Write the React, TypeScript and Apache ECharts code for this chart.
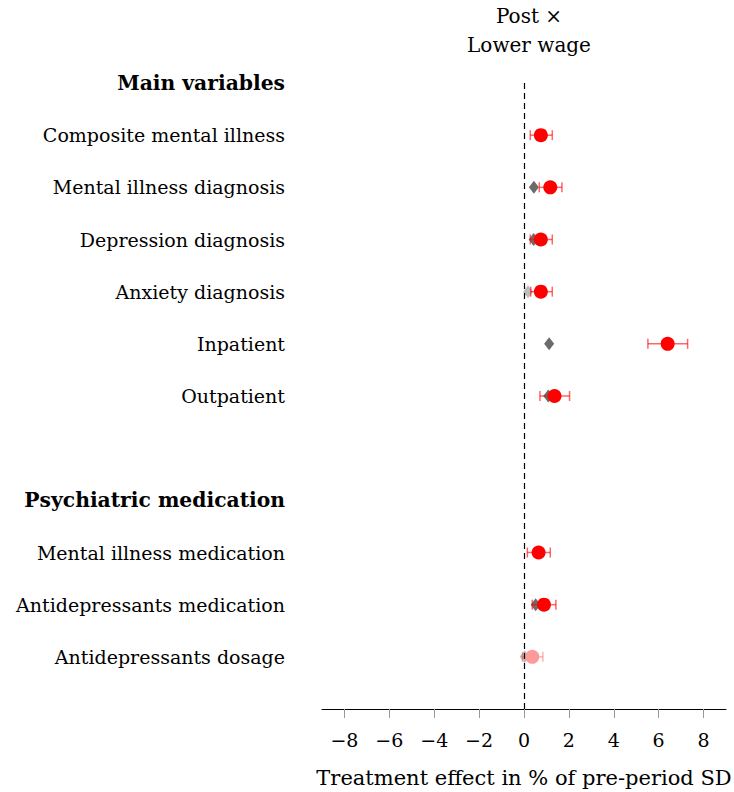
import React, { useEffect, useRef } from "react";
import * as echarts from "echarts";

// Row labels (index = row position from top); headers are flagged
const rowLabels = [
  "Main variables",
  "Composite mental illness",
  "Mental illness diagnosis",
  "Depression diagnosis",
  "Anxiety diagnosis",
  "Inpatient",
  "Outpatient",
  "",
  "Psychiatric medication",
  "Mental illness medication",
  "Antidepressants medication",
  "Antidepressants dosage",
];
const headerRows = [0, 8];

// Red estimates (Post x Lower wage) with confidence intervals
const redRows = [1, 2, 3, 4, 5, 6, 9, 10, 11];
const redEst = [0.75, 1.17, 0.75, 0.75, 6.4, 1.36, 0.65, 0.89, 0.37];
const ciLow = [0.28, 0.68, 0.28, 0.3, 5.52, 0.71, 0.15, 0.37, -0.07];
const ciHigh = [1.26, 1.69, 1.26, 1.26, 7.29, 2.03, 1.17, 1.42, 0.84];
const redSignificant = [true, true, true, true, true, true, true, true, false];

// Gray diamond estimates
const grayRows = [2, 3, 4, 5, 6, 10, 11];
const grayEst = [0.44, 0.43, 0.18, 1.12, 1.08, 0.52, 0.03];
const graySignificant = [true, true, false, true, true, true, false];

// X axis ticks
const xTicks = [-8, -6, -4, -2, 0, 2, 4, 6, 8];

const FONT = "DejaVu Serif";

export default function App() {
  const ref = useRef<HTMLDivElement>(null);
  useEffect(() => {
    if (!ref.current) return;
    const chart = echarts.init(ref.current, null, { renderer: "svg" });

    const grayData = grayRows.map((r, i) => ({
      value: [grayEst[i], r],
      itemStyle: { color: graySignificant[i] ? "#6b6b6b" : "#bdbdbd", opacity: 1 },
    }));
    const redData = redRows.map((r, i) => ({
      value: [redEst[i], r],
      itemStyle: { color: redSignificant[i] ? "#ff0000" : "#ff9a9a", opacity: 1 },
    }));
    const errData = redRows.map((r, i) => [ciLow[i], ciHigh[i], r, redSignificant[i] ? 1 : 0]);

    chart.setOption({
      animation: false,
      title: {
        text: "Post ×\nLower wage",
        left: 524,
        top: -4,
        textAlign: "center",
        textStyle: {
          fontFamily: FONT,
          fontWeight: "normal",
          fontSize: 20,
          lineHeight: 29,
          color: "#000",
        },
      },
      grid: {
        left: 322,
        right: 8,
        top: 83,
        bottom: 83,
        containLabel: false,
        outerBoundsMode: "none",
      },
      xAxis: {
        type: "value",
        min: -9,
        max: 9,
        splitLine: { show: false },
        axisLine: { show: true, onZero: false, lineStyle: { color: "#000", width: 1 } },
        axisTick: {
          show: true,
          customValues: xTicks,
          length: 9,
          lineStyle: { color: "#999", width: 1 },
        },
        axisLabel: {
          customValues: xTicks,
          formatter: (v: number) => (v < 0 ? "−" + Math.abs(v) : String(v)),
          fontFamily: FONT,
          fontSize: 19,
          color: "#000",
          margin: 21,
        },
        name: "Treatment effect in % of pre-period SD",
        nameLocation: "middle",
        nameGap: 58,
        nameTextStyle: { fontFamily: FONT, fontSize: 21, color: "#000" },
      },
      yAxis: {
        type: "value",
        inverse: true,
        min: 0,
        max: 12,
        interval: 1,
        splitLine: { show: false },
        axisLine: { show: false },
        axisTick: { show: false },
        axisLabel: {
          show: true,
          margin: 37,
          showMaxLabel: true,
          showMinLabel: true,
          fontFamily: FONT,
          fontSize: 19,
          color: "#000",
          formatter: (v: number) => {
            const lab = rowLabels[v] ?? "";
            if (!lab) return "";
            return headerRows.includes(v) ? "{b|" + lab + "}" : lab;
          },
          rich: {
            b: { fontFamily: FONT, fontSize: 20.3, fontWeight: "bold", color: "#000" },
          },
        },
      },
      series: [
        {
          type: "scatter",
          name: "ref",
          data: grayData,
          symbol: "diamond",
          symbolSize: [10, 13],
          z: 2,
          markLine: {
            silent: true,
            symbol: "none",
            label: { show: false },
            lineStyle: { color: "#000", type: [6, 4], width: 1.2 },
            data: [{ xAxis: 0 }],
          },
        },
        {
          type: "custom",
          name: "ci",
          z: 3,
          data: errData,
          encode: { x: [0, 1], y: 2 },
          renderItem: (params: any, api: any) => {
            const y = api.value(2);
            const lo = api.coord([api.value(0), y]);
            const hi = api.coord([api.value(1), y]);
            const col = api.value(3) ? "rgba(255,0,0,0.6)" : "rgba(255,0,0,0.3)";
            const h = 5;
            const style = { stroke: col, lineWidth: 1.5 };
            return {
              type: "group",
              children: [
                { type: "line", shape: { x1: lo[0], y1: lo[1], x2: hi[0], y2: hi[1] }, style },
                { type: "line", shape: { x1: lo[0], y1: lo[1] - h, x2: lo[0], y2: lo[1] + h }, style },
                { type: "line", shape: { x1: hi[0], y1: hi[1] - h, x2: hi[0], y2: hi[1] + h }, style },
              ],
            };
          },
        },
        {
          type: "scatter",
          name: "est",
          data: redData,
          symbol: "circle",
          symbolSize: 14,
          z: 4,
        },
      ],
    });
    return () => chart.dispose();
  }, []);
  return (
    <div
      ref={ref}
      style={{ position: "fixed", left: 0, top: 0, width: 734, height: 792, background: "#fff" }}
    />
  );
}
